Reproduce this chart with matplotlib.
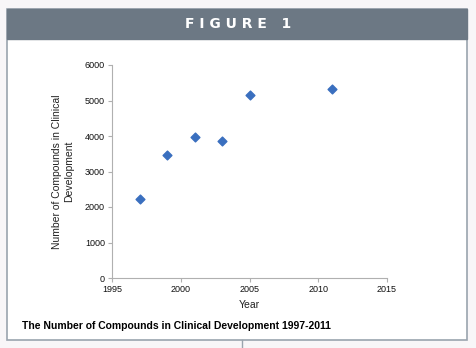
import matplotlib.pyplot as plt
from matplotlib.patches import Rectangle
from matplotlib.lines import Line2D

plt.rcParams['font.family'] = ['Liberation Sans', 'DejaVu Sans']

years = [1997, 1999, 2001, 2003, 2005, 2011]
compounds = [2225, 3465, 3970, 3860, 5155, 5330]
x_ticks = [1995, 2000, 2005, 2010, 2015]
y_ticks = [0, 1000, 2000, 3000, 4000, 5000, 6000]

W, H = 476, 348
fig = plt.figure(figsize=(W / 100, H / 100), dpi=100)
fig.patch.set_facecolor('#f8f6f8')

def px(x, y):
    return x / W, 1 - y / H

# panel frame
x0, y0 = px(7, 340)
x1, y1 = px(467, 9)
fig.add_artist(Rectangle((x0, y0), x1 - x0, y1 - y0, transform=fig.transFigure,
                         facecolor='white', edgecolor='#9aa4ae', lw=1.2, zorder=-2))
# header bar
hx, hy = px(7, 39)
fig.add_artist(Rectangle((hx, hy), x1 - hx, y1 - hy, transform=fig.transFigure,
                         facecolor='#6c7884', edgecolor='#6c7884', lw=1, zorder=-1))
fig.text(0.5, 1 - 24 / H, 'F I G U R E   1', color='white', fontsize=10,
         fontweight='bold', ha='center', va='center', family='DejaVu Sans')
# little line below the frame
fig.add_artist(Line2D([242 / W, 242 / W], [1 - 340 / H, 0], transform=fig.transFigure,
                      color='#9aa4ae', lw=1))

ax = fig.add_axes([112 / W, 1 - 278 / H, (387 - 112) / W, (278 - 65) / H])
ax.patch.set_alpha(0)
ax.scatter(years, compounds, marker='D', s=20, color='#3a6fbf', zorder=3)
ax.set_xlim(1995, 2015)
ax.set_ylim(0, 6000)
ax.set_xticks(x_ticks)
ax.set_yticks(y_ticks)
for s in ['top', 'right']:
    ax.spines[s].set_visible(False)
for s in ['left', 'bottom']:
    ax.spines[s].set_color('#b0b0b0')
    ax.spines[s].set_linewidth(0.8)
ax.tick_params(length=3, width=0.8, color='#b0b0b0', labelsize=6.5, pad=2,
               labelcolor='#111111')
ax.set_xlabel('Year', fontsize=7.5, color='#222222', labelpad=4)
ax.set_ylabel('Number of Compounds in Clinical\nDevelopment', fontsize=7.5,
              color='#222222', labelpad=8)

fig.text(22 / W, 1 - 326 / H, 'The Number of Compounds in Clinical Development 1997-2011',
         fontsize=7.5, fontweight='bold', va='center', ha='left')

plt.savefig('out.png', dpi=100)
